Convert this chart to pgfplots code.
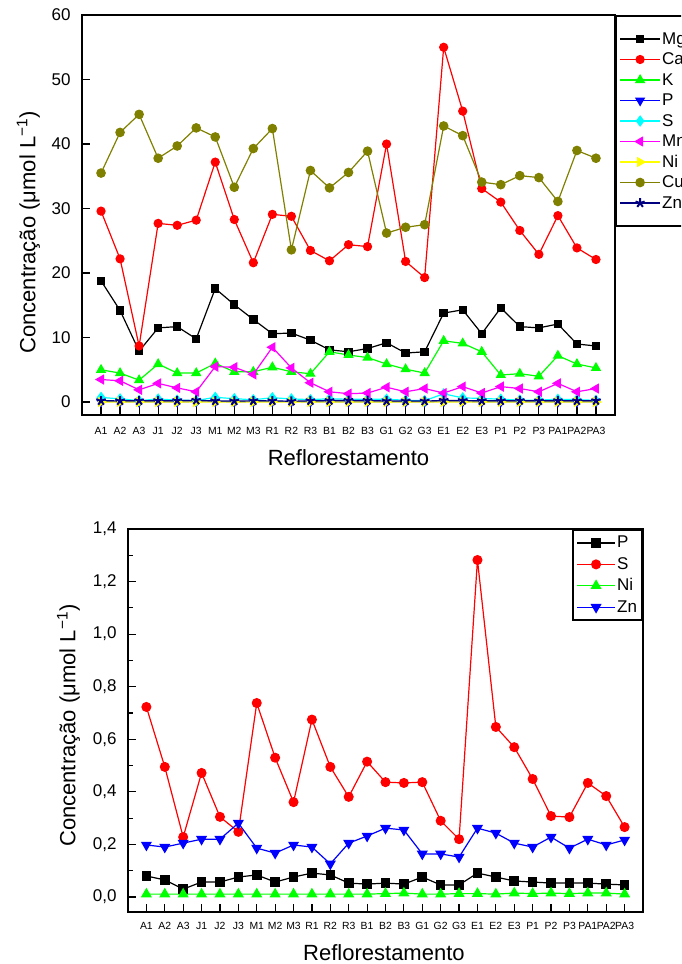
\documentclass[border=0pt]{standalone}
\usepackage{fontspec}
\setmainfont{Liberation Sans}
\usepackage{pgfplots}
\pgfplotsset{compat=1.18}
\usepackage{pgfplotstable}

\definecolor{cMg}{RGB}{0,0,0}
\definecolor{cCa}{RGB}{255,0,0}
\definecolor{cK}{RGB}{0,255,0}
\definecolor{cP}{RGB}{0,0,255}
\definecolor{cS}{RGB}{0,255,255}
\definecolor{cMn}{RGB}{255,0,255}
\definecolor{cNi}{RGB}{255,255,0}
\definecolor{cCu}{RGB}{128,128,0}
\definecolor{cZn}{RGB}{0,0,128}

\pgfplotstableread{
x Mg Ca K P S Mn Ni Cu Zn
1 18.8 29.6 5.0 0.080 0.723 3.5 0.011 35.5 0.198
2 14.2 22.2 4.5 0.065 0.495 3.3 0.011 41.8 0.190
3 7.9 8.7 3.4 0.030 0.228 1.9 0.011 44.6 0.205
4 11.5 27.7 5.9 0.057 0.472 2.9 0.011 37.8 0.220
5 11.7 27.4 4.5 0.057 0.305 2.2 0.011 39.7 0.220
6 9.8 28.2 4.5 0.076 0.248 1.6 0.011 42.5 0.281
7 17.6 37.2 6.0 0.084 0.738 5.5 0.011 41.1 0.186
8 15.1 28.3 4.7 0.057 0.530 5.4 0.011 33.3 0.167
9 12.8 21.6 4.7 0.076 0.361 4.3 0.011 39.3 0.198
10 10.6 29.1 5.4 0.091 0.675 8.5 0.011 42.4 0.190
11 10.7 28.8 4.7 0.084 0.495 5.3 0.011 23.6 0.126
12 9.6 23.5 4.4 0.053 0.381 3.0 0.011 35.9 0.205
13 8.1 21.9 7.8 0.049 0.515 1.6 0.011 33.2 0.232
14 7.8 24.4 7.3 0.053 0.437 1.3 0.013 35.6 0.262
15 8.3 24.1 6.9 0.049 0.434 1.4 0.015 38.9 0.255
16 9.2 40.0 5.9 0.076 0.437 2.3 0.011 26.2 0.164
17 7.6 21.8 5.1 0.046 0.290 1.6 0.011 27.1 0.164
18 7.8 19.3 4.5 0.046 0.220 2.1 0.013 27.5 0.152
19 13.8 55.0 9.5 0.091 1.282 1.4 0.013 42.8 0.262
20 14.3 45.1 9.1 0.076 0.647 2.4 0.011 41.3 0.243
21 10.6 33.1 7.8 0.061 0.570 1.4 0.015 34.1 0.205
22 14.6 31.0 4.2 0.057 0.449 2.4 0.013 33.7 0.190
23 11.7 26.6 4.4 0.053 0.308 2.1 0.015 35.1 0.228
24 11.5 22.9 4.0 0.053 0.304 1.6 0.013 34.8 0.186
25 12.1 28.9 7.2 0.053 0.434 2.9 0.015 31.1 0.220
26 9.0 23.9 5.9 0.049 0.384 1.6 0.015 39.0 0.198
27 8.7 22.1 5.3 0.046 0.266 2.1 0.011 37.8 0.217
}\datatab

\pgfplotsset{
  common/.style={
    scale only axis,
    xmin=0, xmax=28,
    xtick={1,...,27},
    xticklabels={A1,A2,A3,J1,J2,J3,M1,M2,M3,R1,R2,R3,B1,B2,B3,G1,G2,G3,E1,E2,E3,P1,P2,P3,PA1,PA2,PA3},
    tick align=inside, tick pos=left,
    axis line style={line width=0.75pt},
    every tick/.style={black, line width=0.6pt},
    major tick length=4pt, minor tick length=2.5pt,
    /pgf/number format/assume math mode=true,
    xticklabel style={font=\fontsize{5.2}{6}\selectfont},
    yticklabel style={font=\fontsize{8.5}{10}\selectfont, xshift=-2.2pt},
    label style={font=\fontsize{11}{13}\selectfont},
    legend cell align=left,
    legend style={draw=black, line width=1pt, fill=white,
      font=\fontsize{8.5}{10}\selectfont,
      nodes={inner xsep=0.75pt, inner ysep=0pt, text height=6.5pt, text depth=1.5pt},
      row sep=2.25pt, inner xsep=1.75pt, inner ysep=7.5pt},
    legend image code/.code={\draw[line width=0.6pt, mark repeat=2, mark phase=2] plot coordinates {(0pt,0pt) (10pt,0pt) (20pt,0pt)};},
    every axis plot/.append style={line width=0.6pt, mark options={solid}},
  }
}

\begin{document}
\begin{tikzpicture}
\useasboundingbox (0pt,0pt) rectangle (340.5pt,482pt);
\clip (0pt,0pt) rectangle (340.5pt,482pt);

\begin{axis}[common,
  at={(41pt,274.5pt)}, anchor=south west,
  width=266.5pt, height=200pt,
  ymin=-2, ymax=60, ytick={0,10,...,60},
  xticklabel style={yshift=-2.6pt},
  xlabel={Reflorestamento},
  ylabel={Concentração (μmol L\textsuperscript{−1})},
  xlabel style={at={(axis description cs:0.5,-0.1075)}, anchor=center},
  ylabel style={at={(axis description cs:-0.1004,0.457)}, anchor=center},
  legend style={at={(rel axis cs:1,1)}, anchor=north west},
]
\addplot[cMg, mark=square*, mark size=1.8pt] table[x=x,y=Mg]{\datatab};
\addlegendentry{Mg}
\addplot[cCa, mark=*, mark size=2pt] table[x=x,y=Ca]{\datatab};
\addlegendentry{Ca}
\addplot[cK, mark=triangle*, mark size=2.4pt] table[x=x,y=K]{\datatab};
\addlegendentry{K}
\addplot[cP, mark=triangle*, mark size=2.4pt, mark options={rotate=180}] table[x=x,y=P]{\datatab};
\addlegendentry{P}
\addplot[cS, mark=diamond*, mark size=2.4pt] table[x=x,y=S]{\datatab};
\addlegendentry{S}
\addplot[cMn, mark=triangle*, mark size=2.4pt, mark options={rotate=90}] table[x=x,y=Mn]{\datatab};
\addlegendentry{Mn}
\addplot[cNi, mark=triangle*, mark size=2.4pt, mark options={rotate=-90}] table[x=x,y=Ni]{\datatab};
\addlegendentry{Ni}
\addplot[cCu, mark=*, mark size=2.1pt] table[x=x,y=Cu]{\datatab};
\addlegendentry{Cu}
\addplot[cZn, mark=star, mark size=2.4pt, mark options={line width=1pt}] table[x=x,y=Zn]{\datatab};
\addlegendentry{Zn}
\end{axis}

\begin{axis}[common,
  at={(64pt,26pt)}, anchor=south west,
  width=257.5pt, height=191.5pt,
  ymin=-0.057, ymax=1.4, ytick={0,0.2,...,1.4},
  minor y tick num=1,
  yticklabel style={/pgf/number format/.cd, use comma, fixed, fixed zerofill, precision=1},
  xticklabel style={yshift=-1.5pt},
  xlabel={Reflorestamento},
  ylabel={Concentração (μmol L\textsuperscript{−1})},
  xlabel style={at={(axis description cs:0.497,-0.107)}, anchor=center},
  ylabel style={at={(axis description cs:-0.1155,0.487)}, anchor=center},
  legend style={at={(rel axis cs:1,1)}, anchor=north east, row sep=2.7pt, inner ysep=2.5pt},
  legend image code/.code={\draw[line width=0.6pt, mark repeat=2, mark phase=2] plot coordinates {(0pt,0pt) (9.5pt,0pt) (19pt,0pt)};},
]
\addplot[cMg, mark=square*, mark size=2.1pt] table[x=x,y=P]{\datatab};
\addlegendentry{P}
\addplot[cCa, mark=*, mark size=2.2pt] table[x=x,y=S]{\datatab};
\addlegendentry{S}
\addplot[cK, mark=triangle*, mark size=2.6pt] table[x=x,y=Ni]{\datatab};
\addlegendentry{Ni}
\addplot[cP, mark=triangle*, mark size=2.6pt, mark options={rotate=180}] table[x=x,y=Zn]{\datatab};
\addlegendentry{Zn}
\end{axis}
\end{tikzpicture}
\end{document}
